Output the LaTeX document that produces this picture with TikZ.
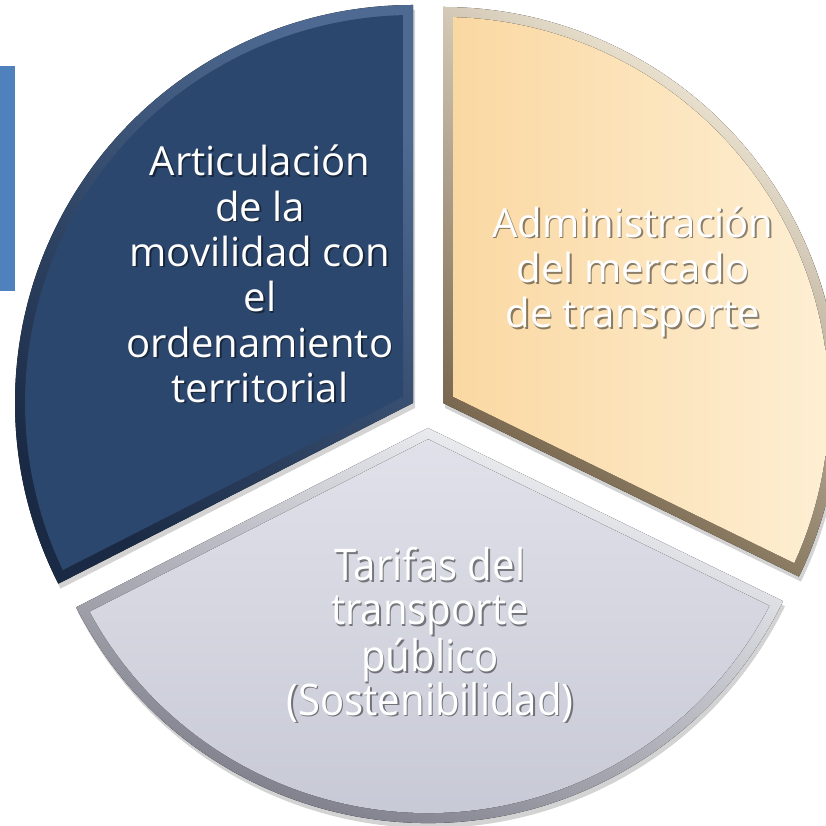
\documentclass[tikz,border=0pt]{standalone}
\usepackage{fontspec}
\setmainfont{Open Sans}
\newfontfamily\narrowfont[FakeStretch=0.92]{Open Sans}
\usetikzlibrary{calc}
\usetikzlibrary{shadows}
\usepackage{xcolor}

\definecolor{barblue}{RGB}{79,129,189}
\definecolor{navy}{RGB}{44,71,109}
\definecolor{navyhi}{RGB}{78,106,146}
\definecolor{navylo}{RGB}{26,42,68}
\definecolor{peachL}{RGB}{250,216,162}
\definecolor{peachR}{RGB}{254,240,214}
\definecolor{peachlo}{RGB}{110,92,66}
\definecolor{peachhi}{RGB}{255,248,232}
\definecolor{greyT}{RGB}{224,225,233}
\definecolor{greyB}{RGB}{196,198,211}
\definecolor{greylo}{RGB}{110,111,124}
\definecolor{greyhi}{RGB}{246,247,250}

\begin{document}
\begin{tikzpicture}[
        sector/.style={drop shadow={opacity=0.35,shadow xshift=0.02,shadow yshift=-0.05}},
        txt/.style={align=center,text=white,font=\fontsize{11.4}{12.9}\selectfont},
        txtback/.style={align=center,text=black,opacity=0.45,font=\fontsize{11.4}{12.9}\selectfont},
        txtnarrow/.style={align=center,text=white,font=\narrowfont\fontsize{12.4}{12.4}\selectfont},
        txtnarrowback/.style={align=center,text=black,opacity=0.45,font=\narrowfont\fontsize{12.4}{12.4}\selectfont}
    ]
        \useasboundingbox (0,0) rectangle (8.25,8.26);

        \coordinate (P) at (4.13,4.23); % navy apex
        \coordinate (Q) at (4.43,4.23); % peach apex
        \coordinate (S) at (4.28,3.98); % grey apex

        % side bar
        \fill[barblue] (0,5.35) rectangle (0.15,7.60);

        % navy sector
        \fill[sector, top color=navyhi, bottom color=navylo, shading angle=-40]
            (P) -- ++(90:3.98) arc[start angle=90, end angle=207, radius=3.98] -- cycle;
        \fill[navy] ($(P)+(148.5:0.117)$) -- ($(P)+(91.5:3.88)$)
            arc[start angle=91.5, end angle=205.5, radius=3.88] -- cycle;

        % peach sector
        \fill[sector, top color=peachhi, bottom color=peachlo, shading angle=-35]
            (Q) -- ++(-26:3.96) arc[start angle=-26, end angle=90, radius=3.96] -- cycle;
        \fill[left color=peachL, right color=peachR] ($(Q)+(32:0.118)$) -- ($(Q)+(-24.5:3.86)$)
            arc[start angle=-24.5, end angle=88.5, radius=3.86] -- cycle;

        % grey sector
        \fill[sector, top color=greyhi, bottom color=greylo, shading angle=-20]
            (S) -- ++(207:3.95) arc[start angle=207, end angle=334, radius=3.95] -- cycle;
        \fill[top color=greyT, bottom color=greyB] ($(S)+(270.5:0.112)$) -- ($(S)+(208.5:3.85)$)
            arc[start angle=208.5, end angle=332.5, radius=3.85] -- cycle;

        % labels
        \node[txtback] (artic-back) at (2.615,5.505) {Articulación\\de la\\movilidad con\\el\\ordenamiento\\territorial};
        \node[txt] (artic) at (2.60,5.52) {Articulación\\de la\\movilidad con\\el\\ordenamiento\\territorial};

        \node[txtback] (admin-back) at (6.345,5.525) {Administración\\del mercado\\de transporte};
        \node[txt] (admin) at (6.33,5.54) {Administración\\del mercado\\de transporte};

        \node[txtnarrowback] (tarifas-back) at (4.315,1.895) {Tarifas del\\transporte\\público\\(Sostenibilidad)};
        \node[txtnarrow] (tarifas) at (4.30,1.91) {Tarifas del\\transporte\\público\\(Sostenibilidad)};
    \end{tikzpicture}
\end{document}
